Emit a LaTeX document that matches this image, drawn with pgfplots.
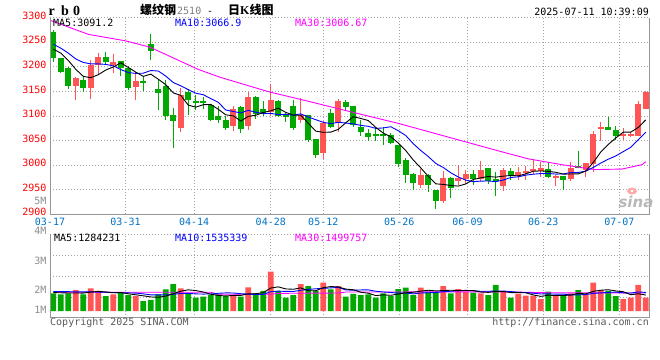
\documentclass[border=0pt]{standalone}
\usepackage{fontspec}
\setmainfont{DejaVu Sans Mono}
\newfontfamily\lmono{Liberation Mono}
\newfontfamily\lserif{Liberation Serif}
\newfontfamily\cjk{Noto Sans CJK SC}
\newfontfamily\logofont{DejaVu Sans}
\usepackage{pgfplots}
\usepackage{pgfplotstable}
\pgfplotsset{compat=1.18}
\newcommand\tf{\fontsize{10bp}{12bp}\selectfont}
\definecolor{kred}{RGB}{255,85,85}
\definecolor{kgreen}{RGB}{0,168,0}
\definecolor{lblblue}{RGB}{0,114,198}
\definecolor{gridc}{RGB}{165,165,165}
\definecolor{borderc}{RGB}{150,150,150}
\definecolor{mablue}{RGB}{0,0,255}
\definecolor{mamag}{RGB}{255,0,255}
\definecolor{vlab}{RGB}{140,140,140}
\definecolor{copyc}{RGB}{90,90,90}

\pgfplotstableread{
x o h l c v
0 3270 3274 3209 3217 1.47
1 3217 3219 3187 3190 1.39
2 3197 3199 3154 3162 1.47
4 3174 3179 3149 3156 1.39
7 3220 3231 3203 3210 1.25
9 3211 3212 3181 3198 1.53
10 3198 3202 3152 3157 1.33
12 3172 3181 3150 3167 0.83
13 3246 3266 3214 3232 0.92
14 3155 3174 3113 3146 1.39
15 3161 3173 3092 3101 1.81
16 3103 3117 3034 3089 2.25
18 3148 3154 3103 3132 1.47
19 3131 3142 3113 3126 1.11
20 3130 3138 3115 3126 1.19
21 3122 3125 3089 3092 1.33
22 3099 3120 3086 3092 1.39
23 3092 3099 3072 3076 1.25
25 3118 3121 3065 3074 1.19
27 3139 3141 3094 3104 1.47
28 3114 3131 3099 3104 1.67
30 3131 3133 3097 3100 1.67
31 3102 3106 3087 3097 1.11
32 3121 3132 3072 3076 1.33
34 3102 3103 3048 3051 2.08
35 3053 3054 3015 3020 1.69
37 3107 3114 3075 3078 1.81
39 3128 3133 3110 3118 1.19
40 3120 3121 3078 3082 1.42
41 3078 3092 3059 3067 1.33
42 3065 3073 3049 3057 1.39
43 3063 3077 3050 3060 1.11
44 3063 3077 3042 3060 1.47
45 3061 3066 3043 3045 1.25
46 3040 3041 2996 3003 1.83
47 3010 3014 2964 2980 1.94
48 2982 2984 2949 2964 1.33
50 2980 2981 2946 2959 1.61
51 2949 2950 2911 2927 1.56
53 2974 2975 2934 2953 1.47
56 2982 2990 2959 2972 1.53
58 2994 2995 2961 2967 1.33
59 2971 2986 2938 2967 2.17
61 2988 2995 2970 2979 1.11
66 2992 3006 2973 2975 1.61
68 2977 2978 2950 2970 1.28
70 2999 3029 2994 2995 1.75
74 3077 3097 3071 3071 1.67
75 3071 3080 3051 3060 1.25
}\dnT

\pgfplotstableread{
x o h l c v
3 3162 3179 3133 3178 1.75
5 3157 3214 3135 3204 1.89
6 3204 3228 3185 3220 1.67
8 3204 3226 3188 3209 1.39
11 3159 3190 3132 3172 1.25
17 3075 3156 3067 3142 1.89
24 3080 3121 3069 3115 1.33
26 3080 3148 3072 3139 1.97
29 3108 3166 3101 3132 3.28
33 3091 3136 3085 3102 2.25
36 3024 3090 3013 3085 2.36
38 3085 3135 3067 3130 2.08
49 2960 2992 2953 2980 1.94
52 2928 2989 2923 2974 2.08
54 2967 3001 2959 2974 1.83
55 2972 2991 2961 2981 1.61
57 2972 3008 2967 2991 1.47
60 2958 2995 2948 2991 1.61
62 2977 2997 2969 2987 1.42
63 2986 2999 2969 2988 1.28
64 2989 3010 2982 2993 1.28
65 2989 3006 2975 2994 1.00
67 2975 2979 2958 2977 1.28
69 2972 3006 2968 2994 1.47
71 2990 3004 2975 3004 1.33
72 3003 3070 2986 3064 2.36
73 3073 3087 3049 3077 1.75
76 3060 3075 3051 3064 1.00
77 3060 3068 3057 3064 1.11
78 3060 3131 3060 3125 2.17
79 3114 3151 3114 3148 1.11
}\upT

\pgfplotstableread{
x ma5 ma10 vma5 vma10
0 3236 3246 1.53 1.61
1 3228 3238 1.52 1.61
2 3213 3228 1.50 1.61
3 3195 3216 1.50 1.60
4 3180.6 3209 1.494 1.60
5 3178 3206 1.578 1.59
6 3184 3206 1.634 1.58
7 3193.6 3205 1.59 1.56
8 3199.8 3202 1.518 1.54
9 3208.2 3194.4 1.546 1.52
10 3198.8 3188.4 1.434 1.506
11 3189.2 3186.6 1.35 1.492
12 3180.6 3187.1 1.266 1.428
13 3185.2 3192.5 1.172 1.345
14 3174.8 3191.5 1.144 1.345
15 3163.6 3181.2 1.24 1.337
16 3147 3168.1 1.44 1.395
17 3142 3161.3 1.652 1.459
18 3122 3153.6 1.762 1.467
19 3118 3146.4 1.706 1.425
20 3123 3143.3 1.582 1.411
21 3123.6 3135.3 1.398 1.419
22 3113.6 3127.8 1.298 1.475
23 3102.4 3112.2 1.254 1.508
24 3100.2 3109.1 1.298 1.502
25 3089.8 3106.4 1.298 1.44
26 3099.2 3111.4 1.426 1.412
27 3101.6 3107.6 1.442 1.37
28 3107.2 3104.8 1.526 1.39
29 3110.6 3105.4 1.916 1.607
30 3115.8 3102.8 2.012 1.655
31 3107.4 3103.3 1.84 1.633
32 3101.8 3101.7 1.812 1.627
33 3101.4 3104.3 1.928 1.727
34 3085.2 3097.9 1.688 1.802
35 3069.2 3092.5 1.692 1.852
36 3066.8 3087.1 1.942 1.891
37 3067.2 3084.5 2.038 1.925
38 3072.8 3087.1 2.004 1.966
39 3086.2 3085.7 1.826 1.757
40 3098.6 3083.9 1.772 1.732
41 3095 3080.9 1.566 1.754
42 3090.8 3079 1.482 1.76
43 3076.8 3074.8 1.288 1.646
44 3065.2 3075.7 1.344 1.585
45 3057.8 3078.2 1.31 1.541
46 3045 3070 1.41 1.488
47 3029.6 3060.2 1.52 1.501
48 3010.4 3043.6 1.564 1.426
49 2994.4 3029.8 1.658 1.501
50 2977.2 3017.5 1.73 1.52
51 2962 3003.5 1.676 1.543
52 2960.8 2995.2 1.704 1.612
53 2958.6 2984.5 1.732 1.648
54 2957.4 2975.9 1.71 1.684
55 2961.8 2969.5 1.71 1.72
56 2970.8 2966.4 1.704 1.69
57 2974.2 2967.5 1.582 1.643
58 2977 2967.8 1.554 1.643
59 2975.6 2966.5 1.622 1.666
60 2977.6 2969.7 1.622 1.666
61 2979 2974.9 1.538 1.621
62 2978.2 2976.2 1.528 1.555
63 2982.4 2979.7 1.518 1.536
64 2987.6 2981.6 1.34 1.481
65 2988.2 2982.9 1.218 1.42
66 2987.4 2983.2 1.318 1.428
67 2985.4 2981.8 1.29 1.409
68 2981.8 2982.1 1.29 1.404
69 2982 2984.8 1.328 1.334
70 2982.2 2985.2 1.478 1.348
71 2988 2987.7 1.422 1.37
72 3005.4 2995.4 1.638 1.464
73 3026.8 3004.3 1.732 1.511
74 3042.2 3012.1 1.772 1.55
75 3055.2 3018.7 1.672 1.575
76 3067.2 3027.6 1.606 1.514
77 3067.2 3036.3 1.356 1.497
78 3076.8 3051.8 1.44 1.586
79 3092.2 3067.2 1.328 1.55
}\maT

\pgfplotstableread{
x ma30
-0.3 3294
4.7 3266
9.6 3253
12.9 3240
17.3 3209
19.3 3195
22.2 3179
28.8 3149
34 3130
39 3111
46 3085
52.2 3059
59.6 3028
63.3 3013
67.8 3001
72.2 2991
75.8 2992
78.5 3001
79 3007
}\maThirty

\pgfplotstableread{
x vma30
0 1.56
21 1.56
22 1.40
29 1.40
30 1.47
38 1.50
39 1.58
60 1.60
66 1.52
79 1.50
}\vmaThirty

\pgfplotsset{
  kbase/.style={
    scale only axis, width=599bp,
    xmin=-0.44, xmax=79.43,
    axis line style={draw=none},
    major tick length=0pt,
    xtick={-0.44,9.63,18.79,29.0,36.0,46.13,55.23,65.33,75.47},
    xmajorgrids, ymajorgrids,
    grid style={gridc, line width=0.8bp, dash pattern=on 1bp off 2bp},
    ticklabel style={font=\tf},
    clip=false,
  },
  wick/.style={draw=none, no marks,
    error bars/.cd, y dir=both, y explicit, error mark=none,
    error bar style={draw=#1, solid, line width=1bp}},
  body/.style={draw=none, no marks,
    error bars/.cd, y dir=both, y explicit, error mark=none,
    error bar style={draw=#1, solid, line width=5.6bp}},
}

\begin{document}
\begin{tikzpicture}
\useasboundingbox (0bp,0bp) rectangle (660bp,360bp);

\begin{axis}[kbase, name=main, at={(50bp,145.7bp)}, anchor=south west,
  height=196.6bp, ymin=2900, ymax=3300,
  xticklabels={03-17,03-31,04-14,04-28,05-12,05-26,06-09,06-23,07-07},
  xticklabel style={text=lblblue},
  ytick={2900,2950,3000,3050,3100,3150,3200,3250,3300},
  yticklabels={2900,2950,3000,3050,3100,3150,3200,3250,3300},
  yticklabel style={text=red, yshift=2bp},
]
\addplot[wick=kgreen] table[x=x, y expr={(\thisrow{h}+\thisrow{l})/2}, y error expr={(\thisrow{h}-\thisrow{l})/2}] {\dnT};
\addplot[body=kgreen] table[x=x, y expr={(\thisrow{o}+\thisrow{c})/2}, y error expr={max(abs(\thisrow{o}-\thisrow{c})/2,1)}] {\dnT};
\addplot[wick=kred] table[x=x, y expr={(\thisrow{h}+\thisrow{l})/2}, y error expr={(\thisrow{h}-\thisrow{l})/2}] {\upT};
\addplot[body=kred] table[x=x, y expr={(\thisrow{o}+\thisrow{c})/2}, y error expr={max(abs(\thisrow{o}-\thisrow{c})/2,1)}] {\upT};
\addplot[mamag, line width=0.9bp] table[x=x, y=ma30] {\maThirty};
\addplot[mablue, line width=0.9bp] table[x=x, y=ma10] {\maT};
\addplot[black, line width=0.9bp] table[x=x, y=ma5] {\maT};
\end{axis}
\draw[borderc, line width=1bp] (main.north west) -- (main.south west) -- (main.south east) -- (main.north east);

\begin{axis}[kbase, name=vol, at={(50bp,42bp)}, anchor=south west,
  height=84bp, ymin=-0.583, ymax=6.417,
  xticklabels={}, ytick={1.167,2.917,4.667,6.417}, yticklabels={},
]
\addplot[ybar, bar width=5.6bp, bar shift=0pt, fill=kgreen, draw=none] table[x=x, y=v] {\dnT};
\addplot[ybar, bar width=5.6bp, bar shift=0pt, fill=kred, draw=none] table[x=x, y=v] {\upT};
\addplot[mamag, line width=0.9bp] table[x=x, y=vma30] {\vmaThirty};
\addplot[mablue, line width=0.9bp] table[x=x, y=vma10] {\maT};
\addplot[black, line width=0.9bp] table[x=x, y=vma5] {\maT};
\end{axis}
\draw[borderc, line width=1bp] (vol.north west) -- (vol.south west) -- (vol.south east) -- (vol.north east);

\begin{scope}[x=1bp, y=1bp, every node/.style={inner sep=0pt, font=\tf}]
\node[anchor=base west] at (48.5,344.5) {\lserif\bfseries\fontsize{14bp}{14bp}\selectfont r};
\node[anchor=base west] at (61,344.5) {\lserif\bfseries\fontsize{14bp}{14bp}\selectfont b};
\node[anchor=base west] at (73,344.5) {\lserif\bfseries\fontsize{14bp}{14bp}\selectfont 0};
\node[anchor=base west] at (140,345.5) {\cjk\bfseries\fontsize{12bp}{12bp}\selectfont 螺纹钢};
\node[anchor=base west, text=gray] at (177,345.5) {2510};
\node[anchor=base west] at (207,345.5) {-};
\node[anchor=base west] at (228,345.5) {{\cjk\bfseries\fontsize{12bp}{12bp}\selectfont 日}{\lserif\bfseries\fontsize{12bp}{12bp}\selectfont K}{\cjk\bfseries\fontsize{12bp}{12bp}\selectfont 线图}};
\node[anchor=base east] at (649,345) {2025-07-11 10:39:09};
\node[anchor=base west] at (53,333.3) {MA5:3091.2};
\node[anchor=base west, text=mablue] at (175,333.3) {MA10:3066.9};
\node[anchor=base west, text=mamag] at (295,333.3) {MA30:3006.67};
\node[anchor=base west] at (54,118.3) {MA5:1284231};
\node[anchor=base west, text=mablue] at (175,118.3) {MA10:1535339};
\node[anchor=base west, text=mamag] at (295,118.3) {MA30:1499757};
\node[anchor=east, text=vlab] at (46.7,159.5) {5M};
\node[anchor=east, text=vlab] at (46.7,129) {4M};
\node[anchor=east, text=vlab] at (46.7,99) {3M};
\node[anchor=east, text=vlab] at (46.7,70) {2M};
\node[anchor=east, text=vlab] at (46.7,50) {1M};
\node[anchor=base west, text=copyc] at (50,34.5) {Copyright 2025 SINA.COM};
\node[anchor=base east, text=copyc] at (649,34.5) {http://finance.sina.com.cn};
\fill[red!35] (632,169) ellipse (5 and 3.5);
\fill[white] (632,169) circle (1.5);
\node[text=black!28] at (636,158) {\logofont\bfseries\itshape\fontsize{15bp}{15bp}\selectfont sina};
\end{scope}
\end{tikzpicture}
\end{document}
